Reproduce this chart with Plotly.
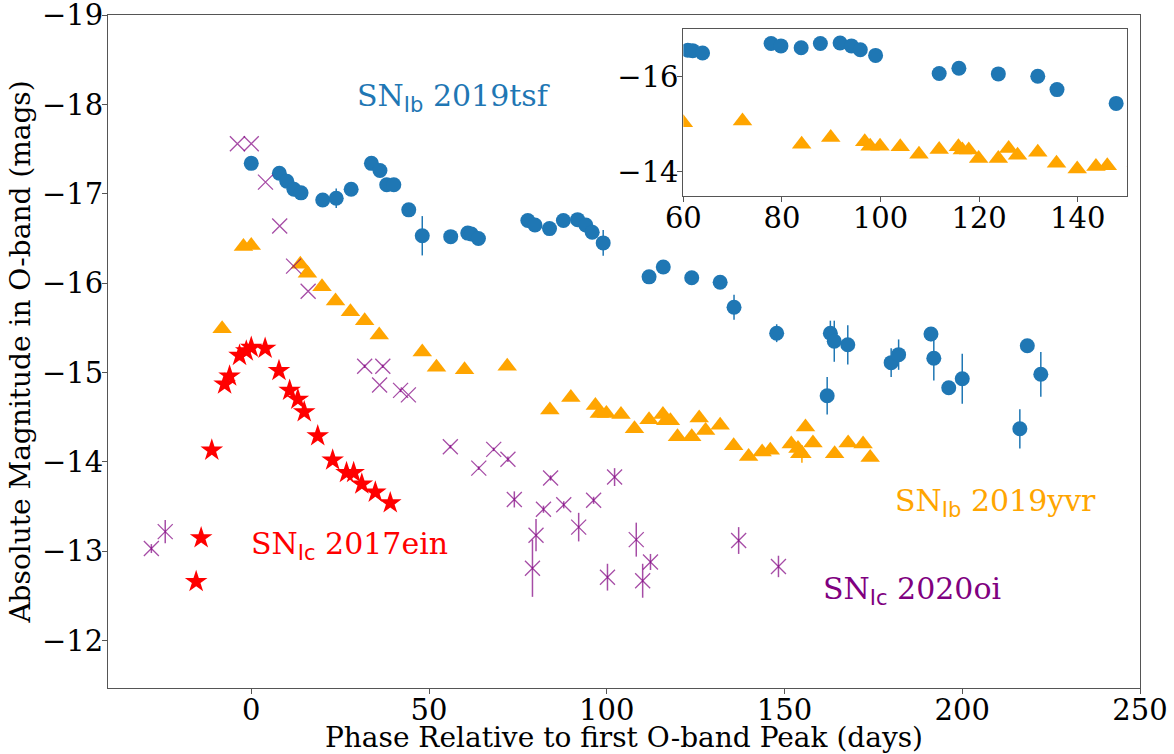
import plotly.graph_objects as go

# SN Ib 2019tsf
tsf_phase = [0.0, 7.9, 10.0, 12.0, 14.0, 20.1, 23.9, 28.1, 33.8, 36.2, 38.1, 40.1, 44.3, 48.1, 56.1,
             60.9, 61.9, 63.9, 77.8, 79.8, 83.9, 87.8, 91.8, 94.1, 95.9, 99.0, 111.9, 115.9, 123.9,
             131.9, 135.8, 147.8, 162.0, 162.9, 164.0, 167.8, 180.0, 182.1, 191.2, 192.0, 196.2,
             200.0, 216.2, 218.3, 222.1]
tsf_mag = [-17.34, -17.23, -17.14, -17.05, -17.01, -16.93, -16.95, -17.05, -17.34, -17.26, -17.10,
           -17.10, -16.82, -16.53, -16.52, -16.56, -16.55, -16.50, -16.70, -16.65, -16.61, -16.70,
           -16.71, -16.65, -16.57, -16.45, -16.07, -16.18, -16.06, -16.01, -15.73, -15.44, -14.74,
           -15.44, -15.35, -15.31, -15.11, -15.20, -15.43, -15.16, -14.83, -14.93, -14.37, -15.30,
           -14.98]
tsf_err = [0.02, 0.02, 0.02, 0.04, 0.02, 0.02, 0.11, 0.02, 0.02, 0.02, 0.02, 0.02, 0.02, 0.22, 0.02,
           0.02, 0.02, 0.02, 0.02, 0.02, 0.02, 0.02, 0.02, 0.02, 0.02, 0.145, 0.02, 0.06, 0.02,
           0.02, 0.14, 0.1, 0.21, 0.14, 0.23, 0.22, 0.16, 0.17, 0.08, 0.25, 0.03, 0.28, 0.22, 0.03,
           0.25]

# SN Ib 2019yvr
yvr_phase = [-8.2, -2.2, 0.0, 13.8, 15.8, 19.9, 23.7, 27.9, 31.9, 36.0, 48.1, 52.1, 60.0, 72.0, 84.0,
             89.9, 96.8, 97.9, 99.9, 104.0, 107.8, 111.9, 115.8, 116.6, 117.9, 119.9, 123.9, 126.0,
             127.8, 131.9, 135.7, 139.9, 143.7, 146.0, 151.9, 153.8, 154.3, 154.9, 155.9, 158.0,
             164.1, 167.9, 172.1, 174.1]
yvr_mag = [-15.49, -16.41, -16.42, -16.21, -16.11, -15.96, -15.80, -15.68, -15.58, -15.42, -15.23,
           -15.06, -15.03, -15.07, -14.58, -14.72, -14.63, -14.54, -14.54, -14.53, -14.37, -14.47,
           -14.53, -14.46, -14.46, -14.28, -14.28, -14.49, -14.35, -14.41, -14.18, -14.06, -14.11,
           -14.13, -14.20, -14.15, -14.09, -14.09, -14.39, -14.21, -14.09, -14.21, -14.20, -14.05]
yvr_err = [0.0] * 37 + [0.1] + [0.0] * 6

# SN Ic 2017ein
ein_phase = [-15.5, -14.1, -11.1, -7.5, -6.1, -3.3, -1.4, 0.0, 3.9, 7.8, 10.8, 13.1, 14.9, 18.7,
             22.9, 26.8, 28.8, 31.1, 34.9, 39.1]
ein_mag = [-12.66, -13.15, -14.13, -14.87, -14.96, -15.19, -15.24, -15.28, -15.27, -15.02, -14.80,
           -14.70, -14.56, -14.29, -14.02, -13.88, -13.88, -13.75, -13.66, -13.54]

# SN Ic 2020oi
oi_phase = [-28.1, -24.2, -3.9, 0.0, 4.0, 8.0, 11.9, 16.0, 31.9, 36.1, 37.0, 42.0, 44.2, 56.0, 64.0,
            68.2, 72.2, 74.0, 79.1, 80.1, 82.2, 84.2, 87.9, 92.1, 96.3, 100.2, 102.2, 108.3, 110.1,
            112.3, 137.1, 148.3]
oi_mag = [-13.03, -13.22, -17.56, -17.56, -17.13, -16.64, -16.19, -15.91, -15.07, -14.86, -15.07,
          -14.80, -14.75, -14.17, -13.93, -14.14, -14.03, -13.58, -12.81, -13.18, -13.47, -13.82,
          -13.52, -13.27, -13.57, -12.71, -13.83, -13.13, -12.67, -12.88, -13.12, -12.83]
oi_err = [0.05, 0.13, 0, 0, 0, 0, 0, 0, 0.02, 0, 0.02, 0.02, 0, 0.02, 0.02, 0.02, 0.03, 0.09, 0.32,
          0.18, 0.04, 0.03, 0.04, 0.16, 0.04, 0.15, 0.10, 0.19, 0.19, 0.09, 0.15, 0.12]

BLUE = '#1f77b4'
ORANGE = '#FFA500'
PURPLE = 'rgba(128,0,128,0.7)'
FONT = 'DejaVu Serif'
SUB = '<sub><span style="font-family:DejaVu Sans">{}</span></sub>'


def blue_trace(xa, ya):
    return go.Scatter(x=tsf_phase, y=tsf_mag, mode='markers', xaxis=xa, yaxis=ya,
                      marker=dict(symbol='circle', size=15, color=BLUE),
                      error_y=dict(type='data', array=tsf_err, width=0, thickness=1.5, color=BLUE))


def orange_trace(xa, ya):
    return go.Scatter(x=yvr_phase, y=yvr_mag, mode='markers', xaxis=xa, yaxis=ya,
                      marker=dict(symbol='triangle-up', size=17, color=ORANGE),
                      error_y=dict(type='data', array=yvr_err, width=0, thickness=1.5, color=ORANGE))


fig = go.Figure()
fig.add_trace(blue_trace('x', 'y'))
fig.add_trace(orange_trace('x', 'y'))
fig.add_trace(go.Scatter(x=ein_phase, y=ein_mag, mode='markers',
                         marker=dict(symbol='star', size=17, color='red')))
fig.add_trace(go.Scatter(x=oi_phase, y=oi_mag, mode='markers',
                         marker=dict(symbol='x-thin-open', size=15, color=PURPLE,
                                     line=dict(width=1.3, color=PURPLE)),
                         error_y=dict(type='data', array=oi_err, width=0, thickness=1.5, color=PURPLE)))
# inset
fig.add_trace(blue_trace('x2', 'y2'))
fig.add_trace(orange_trace('x2', 'y2'))

axis_common = dict(showline=True, linecolor='#555', linewidth=1, mirror=True, showgrid=False,
                   zeroline=False, ticks='outside', ticklen=5, tickcolor='#555', automargin=False,
                   ticklabeloverflow='allow',
                   tickfont=dict(family=FONT, size=29, color='black'))
xstand = dict(ticklabelstandoff=-9)
ystand = dict(ticklabelstandoff=-7)

fig.update_layout(
    width=1174, height=754, showlegend=False,
    margin=dict(l=108, r=34, t=15, b=66),
    paper_bgcolor='white', plot_bgcolor='white',
    font=dict(family=FONT, color='black'),
    xaxis=dict(range=[-40.3, 250], tickvals=[0, 50, 100, 150, 200, 250],
               title=dict(text='Phase Relative to first O-band Peak (days)',
                          font=dict(family=FONT, size=28), standoff=5),
               **axis_common, **xstand),
    yaxis=dict(range=[-11.47, -19], tickvals=[-19, -18, -17, -16, -15, -14, -13, -12],
               title=dict(text='Absolute Magnitude in O-band (mags)',
                          font=dict(family=FONT, size=28), standoff=3),
               **axis_common, **ystand),
    xaxis2=dict(domain=[0.5575, 0.9874], anchor='y2', range=[60, 150],
                tickvals=[60, 80, 100, 120, 140], **axis_common, **xstand),
    yaxis2=dict(domain=[0.731, 0.9788], anchor='x2', range=[-13.49, -17.0],
                tickvals=[-16, -14], **axis_common, **ystand),
)

labels = [
    ('SN' + SUB.format('Ib') + ' 2019tsf', 29.1, -18.08, BLUE),
    ('SN' + SUB.format('Ib') + ' 2019yvr', 180.6, -13.55, ORANGE),
    ('SN' + SUB.format('Ic') + ' 2017ein', -0.7, -13.07, 'red'),
    ('SN' + SUB.format('Ic') + ' 2020oi', 160.2, -12.56, 'purple'),
]
for text, x, y, c in labels:
    fig.add_annotation(x=x, y=y, xref='x', yref='y', text=text, showarrow=False,
                       xanchor='left', yanchor='middle',
                       font=dict(family=FONT, size=30, color=c))

# drop the page's default body margin so the figure fills the window
fig.write_html("out.html", config={'displayModeBar': False},
               post_script="document.body.style.margin='0px';")
